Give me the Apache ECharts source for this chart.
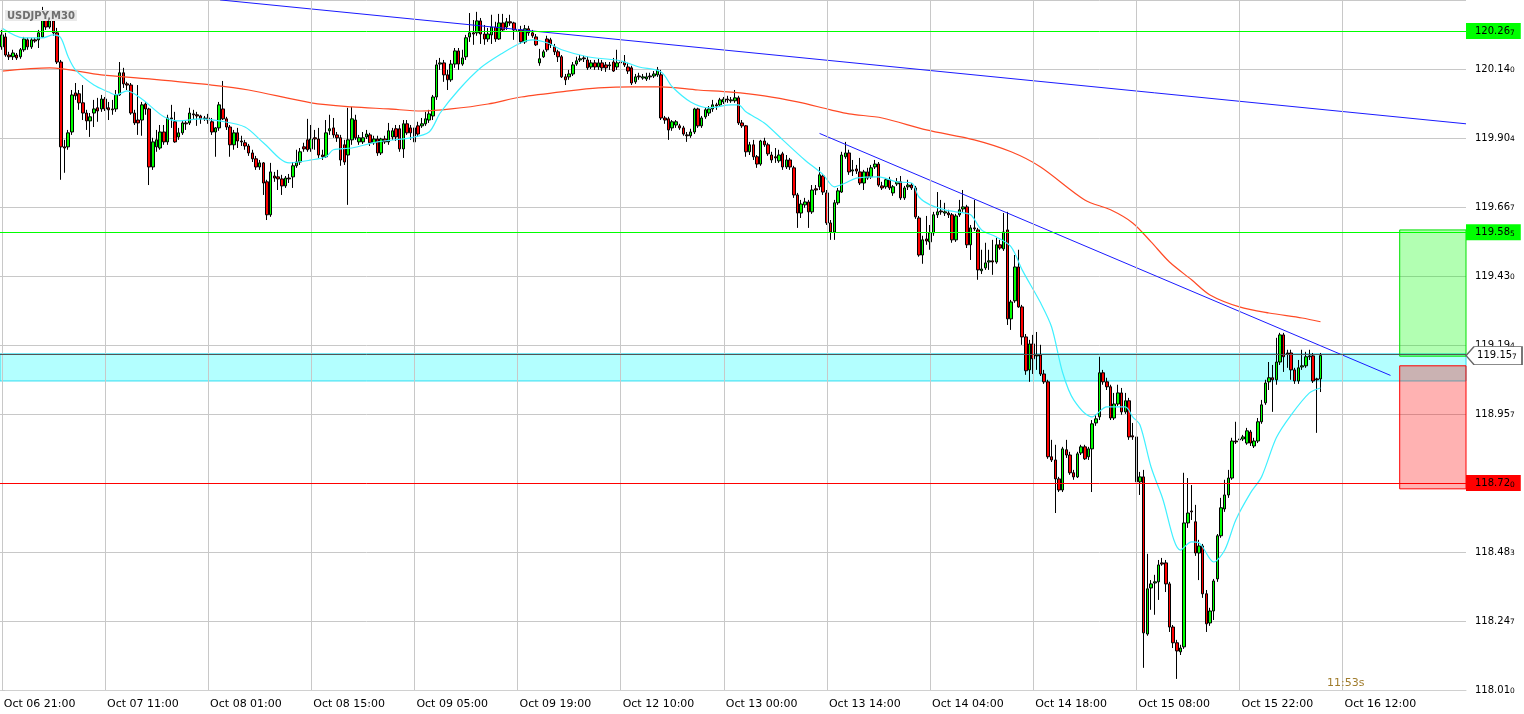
<!DOCTYPE html>
<html><head><meta charset="utf-8">
<script src="https://cdn.jsdelivr.net/npm/echarts@6/dist/echarts.min.js"></script>
<style>html,body{margin:0;padding:0;background:#fff}#c{width:1524px;height:714px}</style>
</head><body><div id="c"></div>
<script>
// ---- axis labels ----
const timeLabels = ['Oct 06 21:00','Oct 07 11:00','Oct 08 01:00','Oct 08 15:00','Oct 09 05:00','Oct 09 19:00','Oct 12 10:00','Oct 13 00:00','Oct 13 14:00','Oct 14 04:00','Oct 14 18:00','Oct 15 08:00','Oct 15 22:00','Oct 16 12:00'];
const barsPerLabel = 28;
const totalBars = 398;
const priceTicks = ['118.010','118.247','118.483','118.720','118.957','119.194','119.430','119.667','119.904','120.140'];
const yMin = 118.010, yStep = 0.236667, yMax = 120.37667;

// ---- candles (M30) ----
const opens = [
120.216,120.250,120.188,120.182,120.188,120.182,120.206,120.240,120.216,120.240,
120.240,120.250,120.308,120.284,120.305,120.264,120.164,119.873,119.873,119.924,
120.058,120.055,120.024,119.989,119.962,119.989,120.007,120.003,120.037,120.007,
120.003,120.003,120.051,120.127,120.089,120.085,119.989,119.965,119.965,120.020,
120.003,119.804,119.873,119.869,119.924,119.890,119.972,119.959,119.907,119.921,
119.955,119.955,119.986,119.983,119.979,119.972,119.972,119.959,119.924,119.938,
120.003,119.969,119.941,119.880,119.921,119.893,119.887,119.876,119.852,119.832,
119.804,119.818,119.753,119.640,119.773,119.770,119.763,119.739,119.766,119.770,
119.808,119.821,119.873,119.897,119.866,119.904,119.900,119.845,119.839,119.928,
119.938,119.914,119.904,119.880,119.845,119.897,119.965,119.890,119.890,119.907,
119.914,119.887,119.900,119.852,119.900,119.890,119.907,119.935,119.935,119.866,
119.952,119.938,119.890,119.945,119.945,119.952,119.965,119.979,120.044,120.157,
120.161,120.120,120.103,120.157,120.202,120.157,120.182,120.250,120.264,120.264,
120.305,120.260,120.243,120.257,120.284,120.243,120.298,120.284,120.302,120.298,
120.271,120.274,120.233,120.278,120.264,120.250,120.161,120.182,120.243,120.240,
120.216,120.199,120.182,120.113,120.113,120.123,120.157,120.171,120.178,120.171,
120.147,120.161,120.147,120.161,120.154,120.151,120.164,120.147,120.164,120.164,
120.147,120.144,120.096,120.116,120.109,120.106,120.116,120.116,120.120,120.120,
119.972,119.969,119.938,119.948,119.945,119.938,119.914,119.911,119.924,120.003,
119.945,119.976,119.989,120.003,120.017,120.017,120.027,120.037,120.031,120.031,
120.041,119.955,119.945,119.856,119.880,119.839,119.814,119.893,119.880,119.845,
119.839,119.825,119.849,119.804,119.828,119.801,119.708,119.646,119.674,119.684,
119.650,119.729,119.736,119.773,119.715,119.612,119.581,119.681,119.718,119.839,
119.852,119.790,119.797,119.787,119.749,119.787,119.770,119.804,119.814,119.739,
119.736,119.760,119.715,119.746,119.753,119.698,119.736,119.742,119.732,119.629,
119.502,119.557,119.547,119.578,119.640,119.653,119.646,119.646,119.640,119.554,
119.640,119.660,119.667,119.537,119.595,119.588,119.448,119.458,119.478,119.482,
119.478,119.537,119.523,119.588,119.283,119.345,119.461,119.324,119.221,119.108,
119.197,119.156,119.159,119.094,119.067,118.810,118.799,118.734,118.696,118.834,
118.816,118.755,118.741,118.823,118.844,118.810,118.837,118.926,118.947,119.098,
119.067,119.050,118.943,118.991,119.029,118.964,119.002,118.882,118.878,118.724,
118.741,118.202,118.360,118.377,118.381,118.446,118.446,118.374,118.226,118.172,
118.141,118.158,118.583,118.624,118.587,118.480,118.504,118.340,118.240,118.281,
118.391,118.539,118.631,118.679,118.737,118.864,118.868,118.871,118.857,118.895,
118.847,118.864,118.930,118.995,119.067,119.081,119.074,119.135,119.228,119.163,
119.166,119.108,119.070,119.118,119.122,119.153,119.156,119.077,119.077];
const closes = [
120.257,120.188,120.182,120.195,120.178,120.206,120.243,120.216,120.240,120.236,
120.264,120.308,120.284,120.305,120.264,120.164,119.873,119.869,119.921,120.051,
120.048,120.024,119.989,119.962,119.976,120.003,119.996,120.037,120.003,120.000,
120.000,120.051,120.127,120.089,120.085,119.989,119.955,119.955,120.017,120.003,
119.804,119.890,119.897,119.924,119.890,119.972,119.969,119.890,119.921,119.955,
119.952,119.989,119.983,119.979,119.969,119.969,119.965,119.924,119.938,120.017,
119.969,119.941,119.880,119.921,119.893,119.890,119.876,119.852,119.832,119.804,
119.818,119.749,119.640,119.787,119.766,119.763,119.739,119.766,119.763,119.808,
119.821,119.856,119.866,119.863,119.900,119.900,119.845,119.839,119.921,119.935,
119.914,119.904,119.828,119.821,119.897,119.969,119.904,119.904,119.904,119.917,
119.887,119.900,119.852,119.900,119.890,119.928,119.928,119.907,119.866,119.952,
119.921,119.921,119.938,119.917,119.952,119.969,119.986,120.044,120.154,120.161,
120.120,120.103,120.157,120.202,120.157,120.178,120.247,120.264,120.260,120.305,
120.260,120.243,120.260,120.284,120.243,120.298,120.274,120.302,120.298,120.274,
120.274,120.233,120.278,120.264,120.254,120.223,120.175,120.199,120.206,120.223,
120.199,120.182,120.113,120.103,120.123,120.154,120.168,120.175,120.175,120.144,
120.161,120.147,120.161,120.144,120.144,120.154,120.133,120.161,120.161,120.154,
120.133,120.092,120.113,120.113,120.113,120.113,120.113,120.123,120.137,119.972,
119.965,119.931,119.959,119.959,119.938,119.917,119.911,119.924,120.003,119.945,
119.972,120.000,120.003,120.017,120.013,120.034,120.037,120.034,120.034,120.041,
119.955,119.945,119.856,119.880,119.839,119.814,119.893,119.880,119.849,119.828,
119.835,119.845,119.804,119.828,119.804,119.708,119.646,119.677,119.684,119.650,
119.725,119.725,119.777,119.718,119.612,119.581,119.681,119.722,119.845,119.852,
119.787,119.794,119.790,119.749,119.787,119.766,119.801,119.814,119.742,119.732,
119.760,119.732,119.736,119.753,119.698,119.732,119.742,119.732,119.633,119.502,
119.554,119.550,119.578,119.640,119.650,119.650,119.650,119.640,119.554,119.636,
119.657,119.667,119.537,119.595,119.592,119.451,119.454,119.475,119.482,119.478,
119.537,119.526,119.581,119.283,119.341,119.461,119.324,119.221,119.105,119.197,
119.146,119.159,119.094,119.067,118.810,118.799,118.734,118.696,118.837,118.816,
118.755,118.741,118.820,118.844,118.803,118.837,118.923,118.940,119.098,119.067,
119.050,118.943,118.991,119.029,118.964,119.002,118.878,118.878,118.724,118.741,
118.206,118.357,118.374,118.381,118.439,118.442,118.374,118.226,118.172,118.144,
118.154,118.583,118.617,118.621,118.480,118.504,118.340,118.237,118.281,118.384,
118.539,118.635,118.679,118.737,118.864,118.861,118.871,118.878,118.899,118.857,
118.864,118.930,118.988,119.063,119.081,119.074,119.135,119.228,119.153,119.166,
119.108,119.070,119.115,119.122,119.153,119.156,119.070,119.074,119.157];
const lows = [
120.206,120.182,120.171,120.171,120.171,120.175,120.199,120.206,120.209,120.230,
120.212,120.247,120.274,120.278,120.254,120.157,119.760,119.784,119.863,119.914,
120.034,120.000,119.965,119.931,119.907,119.941,119.959,119.993,119.996,119.965,
119.983,119.993,120.048,120.075,120.068,119.983,119.948,119.914,119.911,119.983,
119.742,119.794,119.856,119.863,119.880,119.880,119.938,119.887,119.897,119.914,
119.931,119.948,119.965,119.945,119.952,119.962,119.952,119.914,119.839,119.928,
119.965,119.931,119.839,119.863,119.869,119.876,119.863,119.842,119.821,119.794,
119.794,119.708,119.622,119.633,119.753,119.725,119.708,119.732,119.749,119.732,
119.801,119.811,119.856,119.856,119.856,119.863,119.835,119.828,119.835,119.914,
119.904,119.890,119.808,119.811,119.674,119.880,119.897,119.880,119.883,119.900,
119.876,119.880,119.842,119.845,119.883,119.880,119.897,119.893,119.856,119.835,
119.914,119.897,119.880,119.907,119.938,119.945,119.955,119.965,120.034,120.137,
120.096,120.068,120.096,120.144,120.137,120.151,120.171,120.233,120.223,120.254,
120.226,120.223,120.233,120.226,120.233,120.240,120.267,120.274,120.288,120.240,
120.257,120.226,120.226,120.254,120.247,120.219,120.151,120.178,120.199,120.212,
120.188,120.164,120.109,120.085,120.103,120.116,120.151,120.164,120.164,120.137,
120.140,120.137,120.137,120.133,120.130,120.137,120.130,120.137,120.151,120.147,
120.123,120.085,120.089,120.103,120.103,120.099,120.103,120.109,120.113,119.965,
119.952,119.897,119.928,119.938,119.931,119.911,119.890,119.904,119.917,119.938,
119.938,119.969,119.979,119.993,120.000,120.010,120.020,120.024,120.024,120.024,
119.948,119.938,119.839,119.845,119.828,119.801,119.808,119.873,119.842,119.818,
119.818,119.818,119.794,119.797,119.794,119.698,119.595,119.629,119.664,119.595,
119.643,119.708,119.725,119.708,119.605,119.554,119.554,119.674,119.715,119.832,
119.777,119.773,119.780,119.742,119.725,119.760,119.763,119.797,119.736,119.725,
119.729,119.725,119.705,119.739,119.691,119.691,119.725,119.725,119.626,119.496,
119.472,119.537,119.520,119.568,119.629,119.640,119.636,119.629,119.544,119.547,
119.633,119.650,119.526,119.485,119.585,119.417,119.437,119.451,119.451,119.434,
119.472,119.520,119.516,119.262,119.245,119.338,119.321,119.194,119.091,119.067,
119.094,119.108,119.087,119.060,118.803,118.792,118.617,118.689,118.689,118.806,
118.748,118.731,118.737,118.816,118.799,118.799,118.689,118.916,118.936,119.057,
119.039,118.936,118.936,118.984,118.954,118.957,118.868,118.868,118.713,118.679,
118.086,118.196,118.285,118.268,118.319,118.436,118.346,118.209,118.154,118.048,
118.130,118.151,118.566,118.593,118.470,118.387,118.326,118.209,118.230,118.250,
118.381,118.532,118.621,118.669,118.731,118.854,118.861,118.864,118.851,118.847,
118.840,118.857,118.923,118.988,119.039,118.964,119.057,119.125,119.101,119.115,
119.074,119.060,119.060,119.108,119.115,119.142,119.063,118.892,119.032];
const highs = [
120.274,120.264,120.199,120.206,120.195,120.212,120.250,120.247,120.247,120.247,
120.274,120.353,120.326,120.336,120.315,120.281,120.171,119.897,119.931,120.068,
120.092,120.068,120.085,120.000,119.989,120.034,120.041,120.051,120.044,120.027,
120.034,120.068,120.164,120.144,120.096,120.092,120.000,120.085,120.027,120.027,
120.007,119.904,119.931,119.948,119.948,119.983,120.017,119.993,119.938,119.965,
119.965,120.007,120.000,119.993,119.983,119.979,119.986,119.972,119.941,120.027,
120.099,119.976,119.948,119.931,119.938,119.911,119.897,119.883,119.863,119.842,
119.828,119.821,119.760,119.818,119.787,119.794,119.777,119.773,119.780,119.821,
119.863,119.869,119.887,119.969,119.948,119.931,119.938,119.863,119.965,119.983,
119.972,119.924,119.914,119.897,120.007,120.010,119.983,119.914,119.924,119.931,
119.921,119.911,119.911,119.904,119.911,119.955,119.938,119.948,119.948,119.965,
119.965,119.948,119.948,119.959,119.972,119.993,120.000,120.051,120.171,120.178,
120.171,120.137,120.171,120.212,120.212,120.206,120.257,120.332,120.308,120.336,
120.315,120.291,120.281,120.326,120.302,120.329,120.329,120.315,120.326,120.302,
120.288,120.288,120.291,120.288,120.274,120.260,120.209,120.206,120.254,120.247,
120.226,120.206,120.188,120.123,120.137,120.164,120.182,120.188,120.185,120.182,
120.171,120.171,120.175,120.171,120.164,120.164,120.178,120.206,120.178,120.188,
120.161,120.151,120.123,120.127,120.123,120.127,120.127,120.133,120.147,120.137,
119.979,119.976,119.965,119.965,119.952,119.945,119.924,119.935,120.007,120.007,
119.979,120.007,120.013,120.034,120.024,120.041,120.044,120.048,120.044,120.068,
120.048,119.965,119.948,119.890,119.897,119.845,119.897,119.904,119.887,119.856,
119.869,119.863,119.856,119.845,119.835,119.808,119.715,119.691,119.698,119.691,
119.742,119.742,119.804,119.780,119.725,119.622,119.691,119.732,119.856,119.890,
119.863,119.828,119.811,119.835,119.794,119.801,119.811,119.828,119.821,119.753,
119.766,119.770,119.742,119.766,119.773,119.739,119.760,119.749,119.739,119.636,
119.568,119.636,119.605,119.650,119.718,119.691,119.681,119.657,119.646,119.643,
119.691,119.725,119.674,119.605,119.691,119.595,119.520,119.544,119.520,119.554,
119.561,119.554,119.646,119.650,119.348,119.502,119.520,119.331,119.231,119.211,
119.228,119.238,119.194,119.108,119.074,118.868,118.851,118.741,118.844,118.868,
118.827,118.765,118.827,118.851,118.851,118.844,118.936,118.954,119.153,119.108,
119.081,119.057,119.029,119.057,119.046,119.029,119.012,118.926,118.885,118.758,
118.765,118.477,118.387,118.405,118.456,118.463,118.456,118.381,118.233,118.182,
118.165,118.755,118.737,118.713,118.645,118.525,118.511,118.353,118.292,118.391,
118.545,118.669,118.731,118.765,118.875,118.930,118.882,118.885,118.909,118.902,
118.875,118.943,119.005,119.074,119.135,119.125,119.218,119.235,119.235,119.177,
119.177,119.115,119.142,119.177,119.170,119.177,119.166,119.081,119.166];

// ---- moving averages: [bar index, price] ----
const fastMA = [[0,120.281],[6,120.247],[11,120.247],[14,120.257],[16,120.247],[18,120.182],[20,120.137],[25,120.085],[29,120.061],[31,120.051],[34,120.065],[38,120.037],[44,119.976],[48,119.962],[54,119.969],[59,119.962],[66,119.941],[71,119.887],[78,119.818],[84,119.828],[88,119.839],[90,119.863],[95,119.869],[102,119.890],[111,119.904],[116,119.924],[119,119.989],[124,120.068],[130,120.144],[136,120.195],[141,120.230],[144,120.240],[148,120.230],[152,120.206],[159,120.182],[168,120.168],[173,120.147],[179,120.130],[182,120.079],[187,120.027],[192,120.007],[198,120.017],[200,120.017],[202,119.993],[207,119.955],[212,119.897],[218,119.828],[223,119.777],[226,119.736],[229,119.749],[232,119.766],[238,119.770],[243,119.753],[247,119.749],[249,119.701],[252,119.674],[256,119.657],[259,119.650],[263,119.640],[266,119.588],[270,119.564],[274,119.530],[277,119.451],[282,119.338],[285,119.255],[288,119.098],[291,119.005],[296,118.947],[300,118.981],[305,118.981],[307,118.947],[309,118.919],[312,118.775],[315,118.672],[320,118.490],[323,118.518],[325,118.515],[329,118.449],[332,118.490],[335,118.593],[339,118.686],[342,118.741],[346,118.875],[350,118.953],[355,119.029],[358,119.046]];
const slowMA = [[0,120.133],[13,120.144],[27,120.120],[40,120.106],[57,120.085],[67,120.068],[84,120.024],[95,120.010],[105,120.003],[114,119.996],[122,120.003],[132,120.020],[141,120.044],[154,120.065],[162,120.075],[171,120.079],[179,120.079],[189,120.068],[198,120.061],[207,120.048],[216,120.027],[225,120.000],[230,119.986],[239,119.972],[251,119.931],[264,119.897],[274,119.856],[282,119.804],[294,119.691],[301,119.657],[307,119.612],[312,119.547],[317,119.478],[323,119.417],[328,119.365],[336,119.324],[344,119.303],[353,119.286],[358,119.273]];

// ---- drawn objects: [bar index, price] ----
const trendLong = [[59.25,120.377],[397.5,119.952]];
const trendShort = [[222,119.919],[377,119.089]];
const levelHigh = 120.267, levelTarget = 119.585, levelStop = 118.720, lastPrice = 119.157;
const zoneTop = 119.163, zoneBottom = 119.070;
const boxStart = 379.5, boxEnd = 397.5;
const targetBox = [119.588, 119.155];
const stopBox = [119.122, 118.700];

// ---- build ----
const categories = Array.from({length: totalBars}, (_, i) => String(i));
const candles = opens.map((o, i) => [o, closes[i], lows[i], highs[i]]);
const FONT = 'DejaVu Sans';
function priceRich(s) { return s.slice(0, -1) + '{s|' + s.slice(-1) + '}'; }
const richSmall = { s: { fontSize: 7.5, fontFamily: FONT, color: '#000', padding: [3, 0, 0, 0] } };
function tag(value, bg) {
  return {
    yAxis: value,
    lineStyle: { color: bg === '#ff0000' ? '#ff0000' : '#00ff00', width: 1, type: 'solid' },
    label: {
      show: true, position: 'end', distance: 0,
      formatter: priceRich(value.toFixed(3)),
      backgroundColor: bg, color: '#000', fontFamily: FONT, fontSize: 10,
      padding: [3, 6, 2, 9], rich: richSmall
    }
  };
}

const chart = echarts.init(document.getElementById('c'), null, { renderer: 'canvas' });
chart.setOption({
  animation: false,
  backgroundColor: '#ffffff',
  grid: { left: 0, right: 58, top: 0, bottom: 24, containLabel: false },
  xAxis: [
    {
      type: 'category', data: categories, boundaryGap: true,
      axisLine: { show: true, lineStyle: { color: '#d0d0d0' } },
      axisTick: { show: false },
      splitLine: { show: false },
      axisLabel: {
        interval: (i) => i % barsPerLabel === 0,
        formatter: (v, i) => timeLabels[i / barsPerLabel] || '',
        align: 'left', margin: 9, padding: [0, 0, 0, 2],
        fontFamily: FONT, fontSize: 11, color: '#000'
      }
    },
    { type: 'value', min: -0.5, max: totalBars - 0.5, show: false }
  ],
  yAxis: {
    type: 'value', position: 'right', min: yMin, max: yMax, interval: yStep, scale: true,
    axisLine: { show: true, lineStyle: { color: '#d8d8d8' } },
    axisTick: { show: true, length: 3, lineStyle: { color: '#c8c8c8' } },
    splitLine: { show: true, lineStyle: { color: '#c8c8c8', width: 1 } },
    axisLabel: {
      margin: 9, showMaxLabel: false,
      fontFamily: FONT, fontSize: 10, color: '#000', rich: richSmall,
      formatter: (v) => {
        const k = Math.round((v - yMin) / yStep);
        const s = priceTicks[k];
        return s ? priceRich(s) : '';
      }
    }
  },
  graphic: [
    { type: 'text', left: 5, top: 10, z: 100,
      style: { text: 'USDJPY,M30', font: 'bold 10px "DejaVu Sans"', fill: '#6e6e6e', backgroundColor: '#e9e9e9', padding: [1, 2, 0, 2] } },
    { type: 'text', left: 1327, top: 678, z: 100,
      style: { text: '11:53s', font: '11px "DejaVu Sans"', fill: '#a07c2c' } }
  ],
  series: [
    {
      type: 'line', xAxisIndex: 0, yAxisIndex: 0, z: 1, data: [], silent: true,
      markLine: {
        silent: true, symbol: 'none', animation: false,
        label: { show: false },
        lineStyle: { color: '#c8c8c8', width: 1, type: 'solid' },
        data: timeLabels.map((_, k) => ({ xAxis: k * barsPerLabel }))
      }
    },
    {
      type: 'line', xAxisIndex: 1, yAxisIndex: 0, z: 1, data: [[0, lastPrice]], showSymbol: false,
      lineStyle: { width: 0 }, silent: true,
      markArea: {
        silent: true, animation: false,
        data: [
          [{ yAxis: zoneTop, itemStyle: { color: '#b3ffff', borderColor: '#33ddf0', borderWidth: 1 } }, { yAxis: zoneBottom }],
          [{ coord: [boxStart, targetBox[0]], itemStyle: { color: 'rgba(0,255,0,0.3)', borderColor: '#00e000', borderWidth: 1 } }, { coord: [boxEnd, targetBox[1]] }],
          [{ coord: [boxStart, stopBox[0]], itemStyle: { color: 'rgba(255,0,0,0.3)', borderColor: '#ff0000', borderWidth: 1 } }, { coord: [boxEnd, stopBox[1]] }]
        ]
      }
    },
    {
      type: 'candlestick', xAxisIndex: 0, yAxisIndex: 0, z: 2, data: candles,
      barWidth: 3, silent: true,
      itemStyle: { color: '#00ff00', color0: '#ff0000', borderColor: '#000', borderColor0: '#000', borderWidth: 1 }
    },
    {
      type: 'line', xAxisIndex: 0, yAxisIndex: 0, z: 3, data: slowMA, showSymbol: false, smooth: 0.3,
      lineStyle: { color: '#ff4a25', width: 1.2 }, silent: true
    },
    {
      type: 'line', xAxisIndex: 0, yAxisIndex: 0, z: 3, data: fastMA, showSymbol: false, smooth: 0.3,
      lineStyle: { color: '#3ff0ff', width: 1.2 }, silent: true
    },
    {
      type: 'line', xAxisIndex: 1, yAxisIndex: 0, z: 3, data: trendLong, showSymbol: false,
      lineStyle: { color: '#1a1aff', width: 1 }, silent: true
    },
    {
      type: 'line', xAxisIndex: 1, yAxisIndex: 0, z: 3, data: trendShort, showSymbol: false,
      lineStyle: { color: '#1a1aff', width: 1 }, silent: true
    },
    {
      type: 'line', xAxisIndex: 1, yAxisIndex: 0, z: 4, data: [[0, lastPrice]], showSymbol: false,
      lineStyle: { width: 0 }, silent: true,
      markLine: {
        silent: true, symbol: 'none', animation: false,
        data: [
          tag(levelHigh, '#00ff00'),
          tag(levelTarget, '#00ff00'),
          tag(levelStop, '#ff0000'),
          { yAxis: lastPrice, lineStyle: { color: '#555555', width: 1, type: 'solid' }, label: { show: false } }
        ]
      },
      markPoint: {
        silent: true, animation: false,
        data: [{
          coord: [totalBars - 0.5, lastPrice],
          symbol: 'path://M0,9 L8,0 L56,0 L56,18 L8,18 Z',
          symbolSize: [56, 18], symbolOffset: [28, 0], symbolKeepAspect: false,
          itemStyle: { color: '#ffffff', borderColor: '#666666', borderWidth: 1 },
          label: {
            show: true, position: 'inside', offset: [3, 0],
            formatter: priceRich(lastPrice.toFixed(3)),
            color: '#000', fontFamily: FONT, fontSize: 10, rich: richSmall
          }
        }]
      }
    }
  ]
});
</script>
</body></html>
